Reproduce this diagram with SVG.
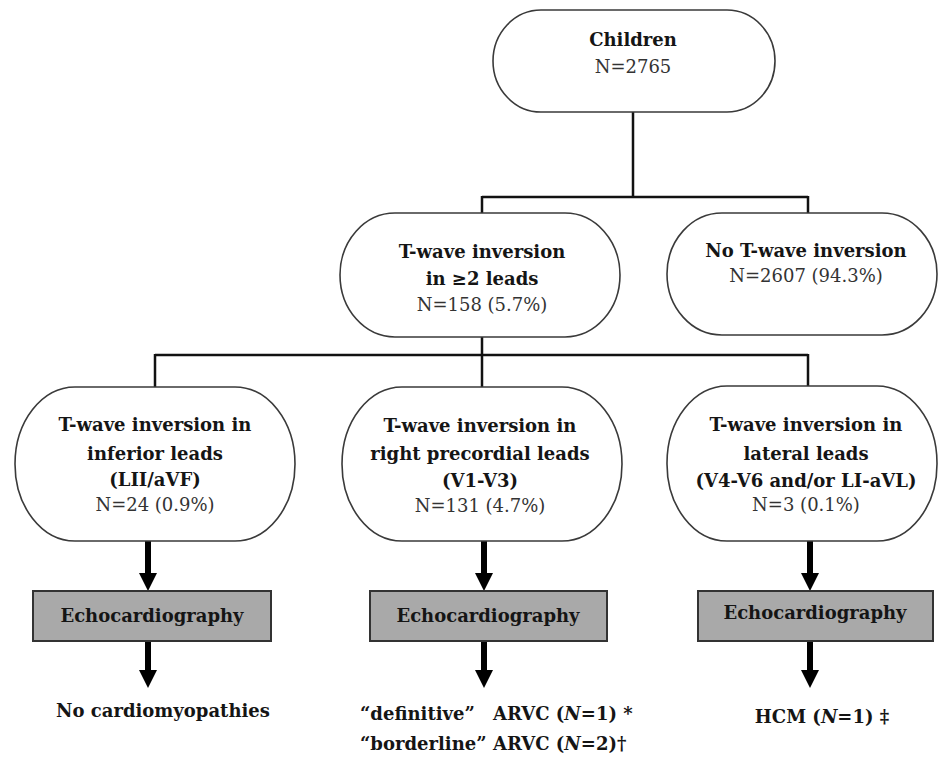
<svg xmlns="http://www.w3.org/2000/svg" width="938" height="759" viewBox="0 0 938 759">
<defs>
<style>
.node{fill:#fff;stroke:#3a3a3a;stroke-width:1.6}
.echo{fill:#a9a9a9;stroke:#333;stroke-width:2}
.t{font-family:"DejaVu Serif","Liberation Serif",serif;font-size:18px;font-weight:bold;fill:#151515;text-anchor:middle}
.n{font-family:"DejaVu Serif","Liberation Serif",serif;font-size:18px;fill:#333;text-anchor:middle}
.r{font-family:"DejaVu Serif","Liberation Serif",serif;font-size:18px;font-weight:bold;fill:#151515}
.c{fill:none;stroke:#111;stroke-width:2.5}
.a{fill:none;stroke:#000;stroke-width:6;marker-end:url(#ah)}
</style>
<marker id="ah" markerUnits="userSpaceOnUse" markerWidth="18" markerHeight="18" refX="1" refY="9" orient="auto">
<path d="M0,0 L18,9 L0,18 Z" fill="#000"/>
</marker>
</defs>
<rect width="938" height="759" fill="#fff"/>
<g id="connectors">
<path class="c" d="M633,112 V197 M482,197 H808 M482,196 V213 M808,196 V213"/>
<path class="c" d="M482,337 V355 M155,355 H808 M155,354 V387 M482,354 V387 M808,354 V387"/>
<line class="a" x1="148" y1="541" x2="148" y2="574"/>
<line class="a" x1="148" y1="641" x2="148" y2="671"/>
<line class="a" x1="484" y1="541" x2="484" y2="574"/>
<line class="a" x1="484" y1="641" x2="484" y2="671"/>
<line class="a" x1="810" y1="541" x2="810" y2="574"/>
<line class="a" x1="810" y1="641" x2="810" y2="671"/>
</g>
<g id="children">
<rect class="node" x="493" y="10" width="282" height="102" rx="48" ry="51"/>
<text class="t" x="633" y="46">Children</text>
<text class="n" x="633" y="73">N=2765</text>
</g>
<g id="twi">
<rect class="node" x="340" y="213" width="280" height="124" rx="55" ry="62"/>
<text class="t" x="482" y="258">T-wave inversion</text>
<text class="t" x="482" y="285">in ≥2 leads</text>
<text class="n" x="482" y="311">N=158 (5.7%)</text>
</g>
<g id="no-twi">
<rect class="node" x="667" y="213" width="270" height="122" rx="55" ry="61"/>
<text class="t" x="806" y="257">No T-wave inversion</text>
<text class="n" x="806" y="282">N=2607 (94.3%)</text>
</g>
<g id="inferior">
<rect class="node" x="15" y="387" width="280" height="154" rx="60" ry="77"/>
<text class="t" x="155" y="431">T-wave inversion in</text>
<text class="t" x="155" y="460">inferior leads</text>
<text class="t" x="155" y="486">(LII/aVF)</text>
<text class="n" x="155" y="511">N=24 (0.9%)</text>
</g>
<g id="right-precordial">
<rect class="node" x="342" y="387" width="280" height="154" rx="60" ry="77"/>
<text class="t" x="480" y="432">T-wave inversion in</text>
<text class="t" x="480" y="460">right precordial leads</text>
<text class="t" x="480" y="487">(V1-V3)</text>
<text class="n" x="480" y="512">N=131 (4.7%)</text>
</g>
<g id="lateral">
<rect class="node" x="667" y="386" width="270" height="155" rx="60" ry="77"/>
<text class="t" x="806" y="431">T-wave inversion in</text>
<text class="t" x="806" y="460">lateral leads</text>
<text class="t" x="806" y="487">(V4-V6 and/or LI-aVL)</text>
<text class="n" x="806" y="511">N=3 (0.1%)</text>
</g>
<g id="echo-1">
<rect class="echo" x="33" y="591" width="238" height="50"/>
<text class="t" x="152" y="622">Echocardiography</text>
</g>
<g id="echo-2">
<rect class="echo" x="370" y="591" width="237" height="50"/>
<text class="t" x="488" y="622">Echocardiography</text>
</g>
<g id="echo-3">
<rect class="echo" x="698" y="591" width="235" height="50"/>
<text class="t" x="815" y="619">Echocardiography</text>
</g>
<g id="result-1">
<text class="t" x="163" y="717">No cardiomyopathies</text>
</g>
<g id="result-2">
<text class="r" y="720"><tspan x="360">“definitive”</tspan><tspan x="493">ARVC (<tspan font-style="italic">N</tspan>=1) *</tspan></text>
<text class="r" y="750"><tspan x="360">“borderline”</tspan><tspan x="493">ARVC (<tspan font-style="italic">N</tspan>=2)†</tspan></text>
</g>
<g id="result-3">
<text class="t" x="822" y="723">HCM (<tspan font-style="italic">N</tspan>=1) ‡</text>
</g>
</svg>
